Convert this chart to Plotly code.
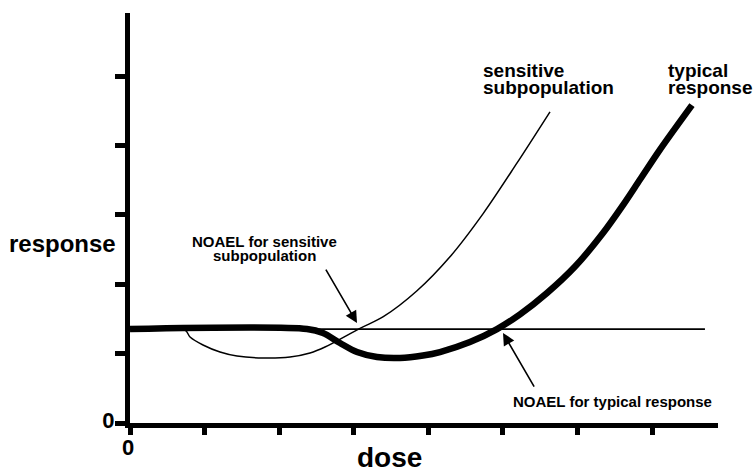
import plotly.graph_objects as go

# ---- data (dose, response in arbitrary units) ----
noael_level = 1.354
noael_x = [0.0, 7.71]
noael_y = [noael_level, noael_level]

typical_x = [0.0, 2.374, 2.588, 2.816, 3.044, 3.312, 3.621, 3.929, 4.157, 4.559, 4.922,
             5.23, 5.592, 5.968, 6.343, 6.611, 6.839, 7.107, 7.536]
typical_y = [1.354, 1.354, 1.297, 1.153, 1.023, 0.951, 0.937, 0.973, 1.023, 1.167, 1.354,
             1.565, 1.873, 2.255, 2.738, 3.141, 3.509, 3.941, 4.582]

sensitive_x = [0.0, 0.738, 0.805, 0.979, 1.207, 1.435, 1.784, 2.146, 2.414, 2.615, 3.084,
               3.397, 3.845, 4.291, 4.738, 5.186, 5.632]
sensitive_y = [1.354, 1.340, 1.239, 1.124, 1.023, 0.965, 0.937, 0.951, 1.009, 1.095, 1.365,
               1.532, 1.902, 2.396, 3.022, 3.742, 4.486]

x_tickvals = [0, 1, 2, 3, 4, 5, 6, 7]
x_ticktext = ["0", "", "", "", "", "", "", ""]
y_tickvals = [0, 1, 2, 3, 4, 5]
y_ticktext = ["0", "", "", "", "", ""]

FONT = "Liberation Sans, Arial, Helvetica, sans-serif"

W, H = 753, 467
ML, MR, MT, MB = 130, 35, 13, 44

fig = go.Figure()
fig.add_trace(go.Scatter(x=noael_x, y=noael_y, mode="lines",
                         line=dict(color="black", width=1.8), hoverinfo="skip"))
fig.add_trace(go.Scatter(x=sensitive_x, y=sensitive_y, mode="lines",
                         line=dict(color="black", width=1.5, shape="spline", smoothing=0.9),
                         hoverinfo="skip"))
fig.add_trace(go.Scatter(x=typical_x, y=typical_y, mode="lines",
                         line=dict(color="black", width=6.5, shape="spline", smoothing=0.9),
                         hoverinfo="skip"))

def label(x, y, text, size, xanchor="center"):
    fig.add_annotation(x=x, y=y, xref="x", yref="y", text=text, showarrow=False,
                       xanchor=xanchor, yanchor="middle",
                       font=dict(family=FONT, size=size, color="black", weight="bold"))

# curve labels
label(4.707, 5.086, "sensitive", 19, "left")
label(4.707, 4.841, "subpopulation", 19, "left")
label(7.188, 5.086, "typical", 19, "left")
label(7.188, 4.841, "response", 19, "left")
# NOAEL labels
label(1.81, 2.622, "NOAEL for sensitive", 15)
label(1.81, 2.421, "subpopulation", 15)
label(6.464, 0.31, "NOAEL for typical response", 15)

# arrows
fig.add_annotation(x=3.044, y=1.441, ax=2.615, ay=2.233, xref="x", yref="y", axref="x", ayref="y",
                   text="", showarrow=True, arrowhead=2, arrowsize=1.5, arrowwidth=1.6,
                   arrowcolor="black", standoff=0)
fig.add_annotation(x=5.002, y=1.297, ax=5.431, ay=0.504, xref="x", yref="y", axref="x", ayref="y",
                   text="", showarrow=True, arrowhead=2, arrowsize=1.5, arrowwidth=1.6,
                   arrowcolor="black", standoff=0)

# axis titles (placed in paper coordinates)
fig.add_annotation(x=-0.1156, y=0.439, xref="paper", yref="paper", text="response",
                   showarrow=False, xanchor="center", yanchor="middle",
                   font=dict(family=FONT, size=24, color="black", weight="bold"))
fig.add_annotation(x=0.4405, y=-0.085, xref="paper", yref="paper", text="dose",
                   showarrow=False, xanchor="center", yanchor="middle",
                   font=dict(family=FONT, size=28, color="black", weight="bold"))

fig.update_layout(
    width=W, height=H,
    margin=dict(l=ML, r=MR, t=MT, b=MB),
    paper_bgcolor="white", plot_bgcolor="white",
    showlegend=False,
    xaxis=dict(range=[0, 7.885], tickvals=x_tickvals, ticktext=x_ticktext,
               showline=True, linewidth=5, linecolor="black",
               ticks="outside", ticklen=7, tickwidth=5, tickcolor="black",
               showgrid=False, zeroline=False, automargin=False,
               ticklabelstandoff=-6, ticklabelshift=-2,
               tickfont=dict(family=FONT, size=22, color="black", weight="bold")),
    yaxis=dict(range=[0, 5.91], tickvals=y_tickvals, ticktext=y_ticktext,
               showline=True, linewidth=5, linecolor="black",
               ticks="outside", ticklen=10, tickwidth=5, tickcolor="black",
               showgrid=False, zeroline=False, automargin=False,
               ticklabelstandoff=-4, ticklabelshift=-3,
               tickfont=dict(family=FONT, size=22, color="black", weight="bold")),
)

fig.write_html(
    "out.html",
    config={"displayModeBar": False, "staticPlot": True},
    post_script="document.documentElement.style.overflow='hidden';"
                "document.body.style.margin='0';document.body.style.overflow='hidden';",
)
